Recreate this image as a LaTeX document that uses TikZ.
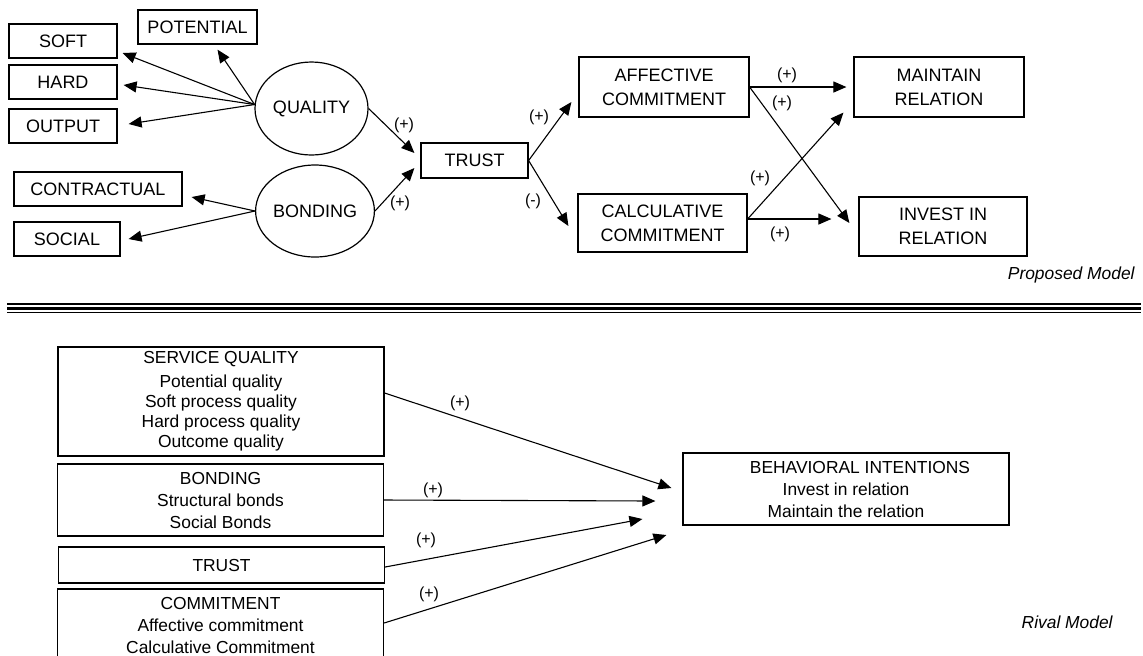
\documentclass[tikz,border=0pt]{standalone}
\usepackage{fontspec}
\setmainfont{Liberation Sans}
\usetikzlibrary{arrows.meta,calc,shapes.geometric}
\begin{document}
\begin{tikzpicture}[x=0.5pt,y=-0.5pt,
  font=\fontsize{9}{12}\selectfont,
  box/.style={draw,line width=0.6pt,inner sep=0pt,align=center,minimum height=17pt},
  ell/.style={draw,ellipse,line width=0.6pt,inner sep=0pt},
  rbox/.style={draw,line width=0.6pt,inner sep=0pt,align=center,font=\fontsize{8.7}{11}\selectfont,minimum width=163pt},
  arr/.style={line width=0.55pt,-{Triangle[length=6.5pt,width=5.5pt]}},
  lbl/.style={font=\fontsize{8}{9}\selectfont,inner sep=0pt}]
\clip (0,0) rectangle (1143,655);
\useasboundingbox (0,0) rectangle (1143,655);
% ---- proposed model ----
\node[box,minimum width=54pt] (soft) at (63,41) {SOFT};
\node[box,minimum width=54pt] (hard) at (63,82) {HARD};
\node[box,minimum width=54pt] (output) at (63,126) {OUTPUT};
\node[box,minimum width=59.5pt] (pot) at (197.5,27) {POTENTIAL};
\node[box,minimum width=84pt] (contr) at (98,189) {CONTRACTUAL};
\node[box,minimum width=53pt] (social) at (67,239) {SOCIAL};
\node[ell,minimum width=56.5pt,minimum height=46.5pt] (q) at (311.5,108.5) {QUALITY};
\node[ell,minimum width=57pt,minimum height=46pt] (b) at (315,211) {BONDING};
\node[box,minimum width=53.5pt,minimum height=17.5pt] (trust) at (474.5,160.5) {TRUST};
\node[box,minimum width=85pt,minimum height=30pt] (aff) at (664,87) {AFFECTIVE\\COMMITMENT};
\node[box,minimum width=84.5pt,minimum height=29pt] (calc) at (662.5,223) {CALCULATIVE\\COMMITMENT};
\node[box,minimum width=85pt,minimum height=30pt] (maint) at (939,87) {MAINTAIN\\RELATION};
\node[box,minimum width=84pt,minimum height=29.5pt] (invest) at (943,226.5) {INVEST IN\\RELATION};

\draw[arr] (q.176) -- ($(soft.east)+(5,12)$);
\draw[arr] (q.176) -- ($(hard.east)+(6,3)$);
\draw[arr] (q.176) -- ($(output.east)+(11,-2)$);
\draw[arr] (q.176) -- ($(pot.south)+(20,5)$);
\draw[arr] (b.west) -- ($(contr.east)+(9,8)$);
\draw[arr] (b.west) -- ($(social.east)+(8,0)$);
\draw[arr] (q.east) -- ($(trust.west)+(-6,-7.5)$);
\draw[arr] (b.east) -- ($(trust.west)+(-6,7.5)$);
\draw[arr] (trust.east) -- ($(aff.west)+(-7,15)$);
\draw[arr] (trust.east) -- ($(calc.west)+(-9,3)$);
\draw[arr] (aff.east) -- ($(maint.west)+(-7,0)$);
\draw[arr] (aff.east) -- ($(invest.west)+(-9,-3.5)$);
\draw[arr] ($(calc.east)+(0,-4)$) coordinate (c1) -- ($(maint.south west)+(-10,-5)$);
\draw[arr] (c1) -- ($(invest.west)+(-27,-7.5)$);

\node[lbl] (l1) at (404,125) {(+)};
\node[lbl] (l2) at (400,203) {(+)};
\node[lbl] (l3) at (539,117) {(+)};
\node[lbl] (l4) at (533,201) {(-)};
\node[lbl] (l5) at (787,75) {(+)};
\node[lbl] (l6) at (782,103) {(+)};
\node[lbl] (l7) at (760,178) {(+)};
\node[lbl] (l8) at (780,234) {(+)};
\node[anchor=east,inner sep=0pt,font=\fontsize{8.7}{10}\selectfont\itshape] (pm) at (1135,275) {Proposed Model};

% ---- separator ----
\draw[line width=0.65pt] (7,304) -- (1141,304);
\draw[line width=1.75pt] (7,308.5) -- (1141,308.5);
\draw[line width=0.75pt] (7,312.5) -- (1141,312.5);

% ---- rival model ----
\node[rbox,minimum height=54.5pt] (sq) at (221,401.5) {SERVICE QUALITY\\[1pt]Potential quality\\[-1pt]Soft process quality\\[-1pt]Hard process quality\\[-1pt]Outcome quality};
\node[rbox,minimum height=36pt] (bond2) at (220.5,500) {BONDING\\Structural bonds\\Social Bonds};
\node[rbox,minimum height=18pt] (trust2) at (221.5,565) {TRUST};
\node[rbox,minimum height=36pt] (comm) at (220.5,625) {COMMITMENT\\Affective commitment\\Calculative Commitment};
\node[rbox,minimum height=36pt] (bi) at (846,489) {\hspace*{14pt}BEHAVIORAL INTENTIONS\\Invest in relation\\Maintain the relation};

\draw[arr] ($(sq.east)+(0,-8.5)$) -- ($(bi.west)+(-11,-1)$);
\draw[arr] (bond2.east) -- ($(bi.west)+(-27,12)$);
\draw[arr] ($(trust2.east)+(0,2)$) -- ($(bi.west)+(-40,30)$);
\draw[arr] ($(comm.east)+(0,-2)$) -- ($(bi.west)+(-16,46)$);

\node[lbl] (r1) at (460,403) {(+)};
\node[lbl] (r2) at (433,490) {(+)};
\node[lbl] (r3) at (426,540) {(+)};
\node[lbl] (r4) at (429,594) {(+)};
\node[anchor=east,inner sep=0pt,font=\fontsize{8.7}{10}\selectfont\itshape] (rm) at (1113,622) {Rival Model};
\end{tikzpicture}
\end{document}
